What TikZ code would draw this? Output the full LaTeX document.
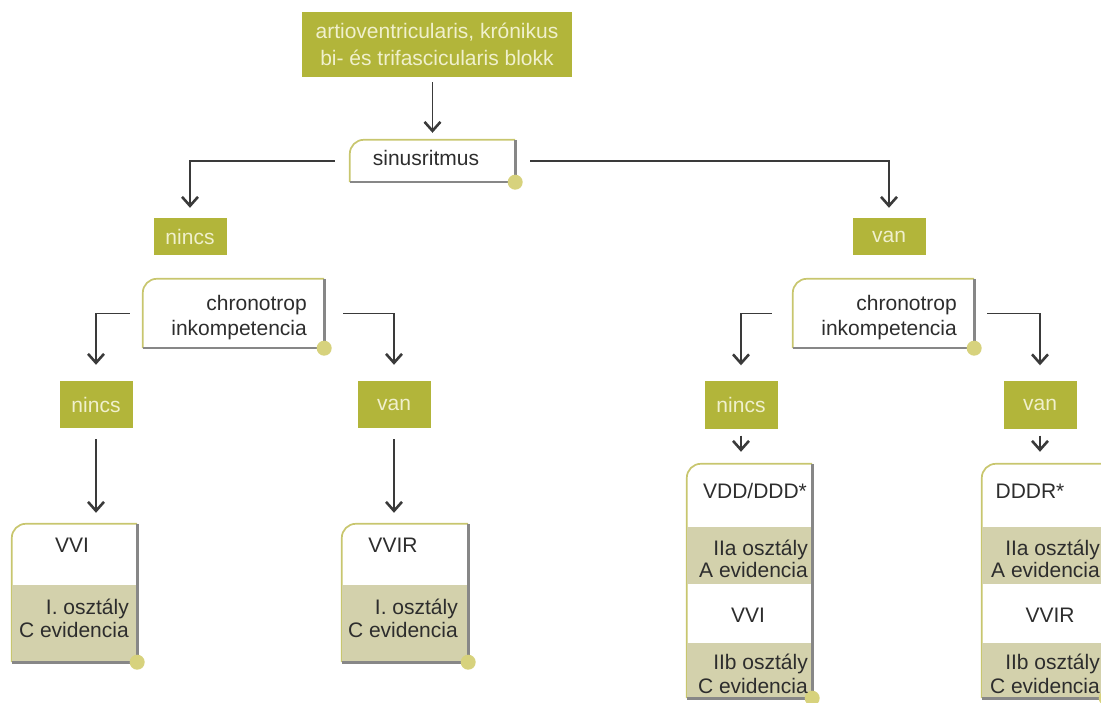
\documentclass[tikz,border=0pt]{standalone}
\usepackage{fontspec}
\setmainfont{Liberation Sans}
\usetikzlibrary{arrows.meta}
\definecolor{grn}{RGB}{178,181,58}
\definecolor{cream}{RGB}{240,240,205}
\definecolor{khaki}{RGB}{211,209,172}
\definecolor{olv}{RGB}{200,198,110}
\definecolor{bgray}{RGB}{135,135,135}
\definecolor{dotc}{RGB}{215,210,125}
\definecolor{arrc}{RGB}{58,58,58}
\definecolor{txt}{RGB}{45,45,45}
\newcommand\decobox[1]{%
  \draw[olvline] (#1.south west) [rounded corners=14pt] -- (#1.north west) -- (#1.north east);
}
\newcommand\closebox[1]{%
  \draw[grayline] (#1.north east) -- (#1.south east) -- (#1.south west);
  \fill[dotc] (#1.south east) circle (7.5pt);
}
\begin{document}
\begin{tikzpicture}[x=1pt,y=-1pt,
  every node/.style={font=\fontsize{21}{24}\selectfont},
  greenbox/.style={fill=grn, text=cream, inner sep=0pt, align=center},
  frame/.style={inner sep=0pt, draw=none},
  lbl/.style={text=txt, inner sep=0pt, align=right},
  olvline/.style={draw=olv, line width=1.7pt},
  grayline/.style={draw=bgray, line width=2.6pt},
  conn/.style={draw=arrc, line width=1.9pt, -{Straight Barb[length=9pt,width=16pt,line width=2.6pt]}}]
\useasboundingbox (0,0) rectangle (1101,703);
\clip (0,0) rectangle (1101,703);

% top
\node[greenbox, minimum width=270pt, minimum height=65pt, font=\fontsize{21}{27}\selectfont] (top) at (437,44.5) {artioventricularis, krónikus\\bi- és trifascicularis blokk};

% sinusritmus
\node[frame, minimum width=165pt, minimum height=42pt] (sinus) at (432.5,161) {};
\decobox{sinus}\closebox{sinus}
\node[lbl] (sinusT) at (426,158) {sinusritmus};
\draw[conn, shorten <=5pt, shorten >=7pt] (top.south -| sinus.north) -- (sinus.north);

% level 1
\node[greenbox, minimum width=73pt, minimum height=37pt] (n1) at (190,236.5) {nincs};
\node[greenbox, minimum width=73pt, minimum height=37pt] (v1) at (889,236.5) {van};
\draw[conn, shorten >=10pt] ([xshift=-15pt]sinus.west) -| (n1.north);
\draw[conn, shorten >=10pt] ([xshift=15pt]sinus.east) -| (v1.north);

% chronotrop boxes
\node[frame, minimum width=181pt, minimum height=69pt] (c1) at (233.5,313.5) {};
\decobox{c1}\closebox{c1}
\node[lbl, anchor=east, font=\fontsize{21}{25}\selectfont] (c1T) at (307,318) {chronotrop\\inkompetencia};
\node[frame, minimum width=181pt, minimum height=69pt] (c2) at (883.5,313.5) {};
\decobox{c2}\closebox{c2}
\node[lbl, anchor=east, font=\fontsize{21}{25}\selectfont] (c2T) at (957,318) {chronotrop\\inkompetencia};

% level 2
\node[greenbox, minimum width=73pt, minimum height=47pt] (n2) at (96,404.5) {nincs};
\node[greenbox, minimum width=73pt, minimum height=47pt] (v2) at (394,404.5) {van};
\node[greenbox, minimum width=73pt, minimum height=47pt] (n3) at (741,405) {nincs};
\node[greenbox, minimum width=73pt, minimum height=47pt] (v3) at (1040,405) {van};
\draw[conn, shorten >=16pt] ([xshift=-13pt]c1.west) -| (n2.north);
\draw[conn, shorten >=16pt] ([xshift=19pt]c1.east) -| (v2.north);
\draw[conn, shorten >=16pt] ([xshift=-21pt]c2.west) -| (n3.north);
\draw[conn, shorten >=16pt] ([xshift=13pt]c2.east) -| (v3.north);

% result boxes
\node[frame, minimum width=125pt, minimum height=138pt] (b1) at (74.5,593) {};
\decobox{b1}
\fill[khaki] (b1.south west) rectangle (b1.east |- 0,585);
\closebox{b1}
\node[lbl] (b1a) at (72,545) {VVI};
\node[lbl, anchor=east, font=\fontsize{21}{23}\selectfont] (b1b) at (129,618) {I. osztály\\C evidencia};

\node[frame, minimum width=126pt, minimum height=138pt] (b2) at (405,593) {};
\decobox{b2}
\fill[khaki] (b2.south west) rectangle (b2.east |- 0,585);
\closebox{b2}
\node[lbl] (b2a) at (393,545) {VVIR};
\node[lbl, anchor=east, font=\fontsize{21}{23}\selectfont] (b2b) at (458,618) {I. osztály\\C evidencia};

\node[frame, minimum width=125pt, minimum height=234pt] (b3) at (749.5,581) {};
\decobox{b3}
\fill[khaki] (b3.west |- 0,527) rectangle (b3.east |- 0,584);
\fill[khaki] (b3.west |- 0,643) rectangle (b3.south east);
\closebox{b3}
\node[lbl] (b3a) at (755,491) {VDD/DDD*};
\node[lbl, anchor=east, font=\fontsize{21}{22.5}\selectfont] (b3b) at (808,559) {IIa osztály\\A evidencia};
\node[lbl] (b3c) at (748,615) {VVI};
\node[lbl, anchor=east, font=\fontsize{21}{24}\selectfont] (b3d) at (808,674) {IIb osztály\\C evidencia};

\node[frame, minimum width=124pt, minimum height=234pt] (b4) at (1044,581) {};
\decobox{b4}
\fill[khaki] (b4.west |- 0,527) rectangle (b4.east |- 0,584);
\fill[khaki] (b4.west |- 0,643) rectangle (b4.south east);
\closebox{b4}
\node[lbl] (b4a) at (1030,491) {DDDR*};
\node[lbl, anchor=east, font=\fontsize{21}{22.5}\selectfont] (b4b) at (1100,559) {IIa osztály\\A evidencia};
\node[lbl] (b4c) at (1050,615) {VVIR};
\node[lbl, anchor=east, font=\fontsize{21}{24}\selectfont] (b4d) at (1100,674) {IIb osztály\\C evidencia};

% arrows to result boxes
\draw[conn, shorten <=11pt, shorten >=11pt] (n2.south) -- (n2.south |- b1.north);
\draw[conn, shorten <=11pt, shorten >=11pt] (v2.south) -- (v2.south |- b2.north);
\draw[conn, shorten <=7pt, shorten >=12pt] (n3.south) -- (n3.south |- b3.north);
\draw[conn, shorten <=7pt, shorten >=12pt] (v3.south) -- (v3.south |- b4.north);
\end{tikzpicture}
\end{document}
